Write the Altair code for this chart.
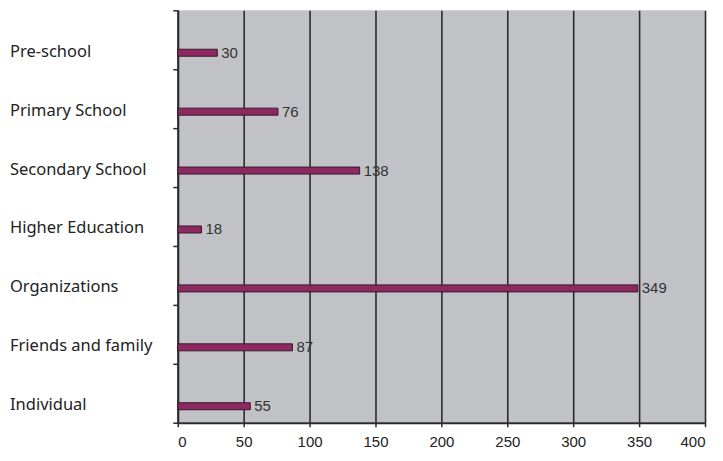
import altair as alt
import pandas as pd

categories = ["Pre-school", "Primary School", "Secondary School", "Higher Education",
              "Organizations", "Friends and family", "Individual"]
values = [30, 76, 138, 18, 349, 87, 55]
x_ticks = [0, 50, 100, 150, 200, 250, 300, 350, 400]

df = pd.DataFrame({
    "category": categories,
    "value": values,
    "pos": [i + 0.72 for i in range(len(categories))],
})

y_ticks = [i * 0.5 for i in range(15)]

x_enc = alt.X("value:Q", scale=alt.Scale(domain=[0, 400], nice=False, padding=0),
              axis=alt.Axis(values=x_ticks, title=None, grid=True, gridColor="#2b2b2b",
                            gridWidth=1.6, domainColor="#2b2b2b", domainWidth=2,
                            tickColor="#2b2b2b", tickSize=4, tickWidth=1.5,
                            labelFont="Liberation Sans", labelFontSize=15,
                            labelColor="#222222", labelPadding=8))
y_enc = alt.Y("pos:Q", scale=alt.Scale(domain=[0, 7], reverse=True, nice=False, zero=False,
                                       padding=0),
              axis=alt.Axis(values=y_ticks, labels=False, title=None, grid=False,
                            domainColor="#2b2b2b", domainWidth=2, tickColor="#2b2b2b",
                            tickSize=5, tickWidth=1.5))

base = alt.Chart(df)

bars = base.mark_bar(orient="horizontal", size=7, color="#8c2a60",
                     stroke="#3a1530", strokeWidth=1).encode(x=x_enc, y=y_enc)

vals = base.mark_text(align="left", baseline="middle", dx=4, font="Liberation Sans",
                      fontSize=15, color="#333333").encode(
    x="value:Q", y="pos:Q", text="value:Q")

cats = base.mark_text(align="left", baseline="middle", dy=-1, font="Noto Sans",
                      fontSize=16.5, color="#222222").encode(
    x=alt.value(-168), y="pos:Q", text="category:N")

chart = alt.layer(bars, vals, cats).properties(
    width=528, height=413,
    autosize=alt.AutoSizeParams(type="none"),
    padding={"left": 170, "top": 2, "right": 10, "bottom": 30},
    background="white",
).configure_view(fill="#c0c2c6", stroke=None)

chart.save("out.html", embed_options={"renderer": "svg", "actions": False})
